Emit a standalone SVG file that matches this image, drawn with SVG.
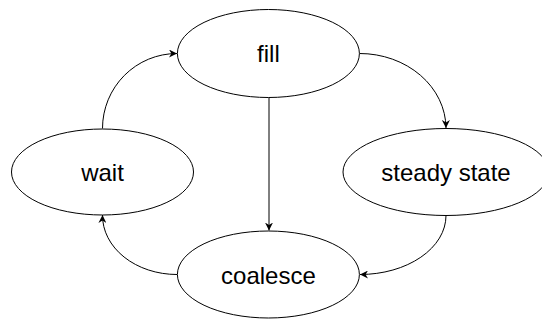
<svg xmlns="http://www.w3.org/2000/svg" width="542" height="320" viewBox="0 0 542 320">
  <style>
    .node ellipse { fill: #ffffff; stroke: #000000; stroke-width: 1; }
    .node text { font-family: "Liberation Sans", Arial, sans-serif; font-size: 24px; fill: #000000; text-anchor: middle; }
    .edge { fill: none; stroke: #000000; stroke-width: 1; marker-end: url(#arrow); }
  </style>
  <defs>
    <marker id="arrow" viewBox="0 0 10 10" refX="10" refY="5" markerWidth="8" markerHeight="8" markerUnits="userSpaceOnUse" orient="auto">
      <path d="M0,0 L10,5 L0,10 L3,5 Z" fill="#000000" stroke="none"/>
    </marker>
  </defs>
  <rect width="542" height="320" fill="#ffffff"/>

  <!-- transitions: quarter arcs around the cycle, plus the direct fill -> coalesce edge -->
  <g id="connectors">
    <path class="edge" d="M102.5,128.5 A74.5,75 0 0 1 177,53.5"/>
    <path class="edge" d="M359.5,53.5 A86.5,75 0 0 1 446,128"/>
    <path class="edge" d="M269,97.5 L269,230.5"/>
    <path class="edge" d="M446,215.5 A86,59 0 0 1 360,274.5"/>
    <path class="edge" d="M177,274.5 A74.5,59 0 0 1 102.5,215"/>
  </g>

  <g id="fill" class="node">
    <ellipse cx="268.4" cy="53.5" rx="91" ry="44"/>
    <text x="268.4" y="62">fill</text>
  </g>
  <g id="wait" class="node">
    <ellipse cx="102.5" cy="172" rx="91" ry="43"/>
    <text x="102.5" y="181">wait</text>
  </g>
  <g id="steady-state" class="node">
    <ellipse cx="446" cy="172" rx="103" ry="43.5"/>
    <text x="446" y="181">steady state</text>
  </g>
  <g id="coalesce" class="node">
    <ellipse cx="268.4" cy="274.5" rx="91" ry="43.5"/>
    <text x="268.4" y="283.5">coalesce</text>
  </g>
</svg>
